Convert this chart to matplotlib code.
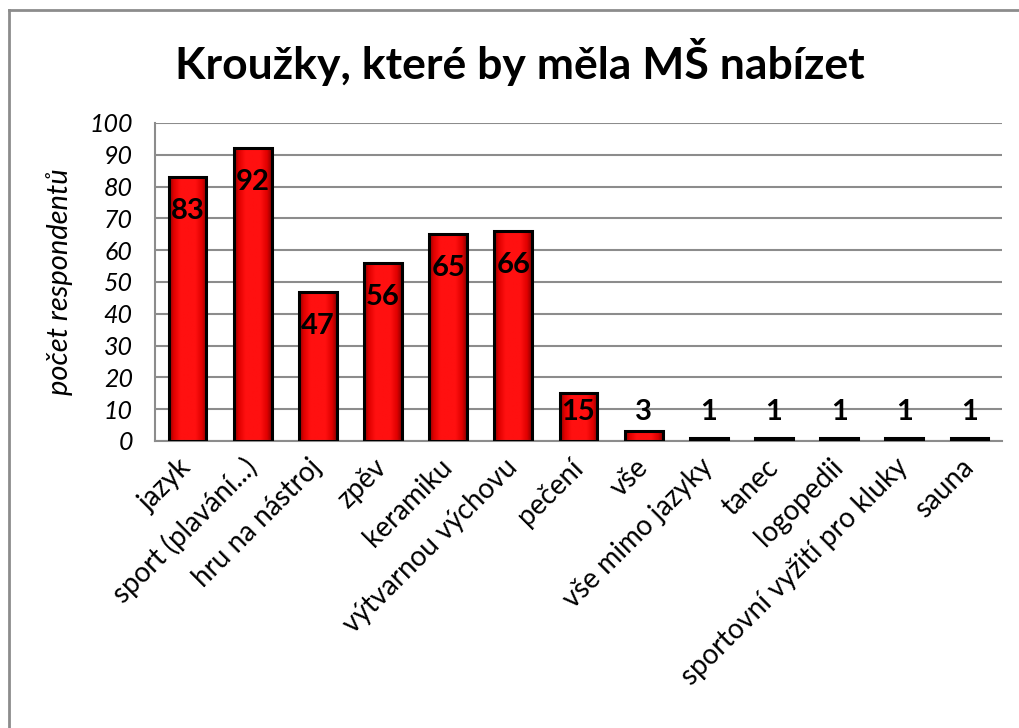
import numpy as np
import matplotlib
matplotlib.use("Agg")
import matplotlib.pyplot as plt
from matplotlib.lines import Line2D
from matplotlib.colors import LinearSegmentedColormap

categories = ["jazyk", "sport (plavání...)", "hru na nástroj", "zpěv", "keramiku",
              "výtvarnou výchovu", "pečení", "vše", "vše mimo jazyky", "tanec",
              "logopedii", "sportovní vyžití pro kluky", "sauna"]
values = [83, 92, 47, 56, 65, 66, 15, 3, 1, 1, 1, 1, 1]
yticks = [0, 10, 20, 30, 40, 50, 60, 70, 80, 90, 100]
title = "Kroužky, které by měla MŠ nabízet"
ylabel = "počet respondentů"

plt.rcParams['font.family'] = ['Lato', 'DejaVu Sans']

fig = plt.figure(figsize=(10.19, 7.28), dpi=100)
ax = fig.add_axes([155/1019, 1-441/728, (1002-155)/1019, (441-123)/728])

x = np.arange(len(categories)) + 0.5
bars = ax.bar(x, values, width=0.58, facecolor='none', edgecolor='black',
              linewidth=2.2, zorder=3)

cmap = LinearSegmentedColormap.from_list(
    'redbar', [(0.0, '#8a0000'), (0.12, '#e00000'), (0.3, '#ff1010'),
               (0.7, '#ff1010'), (0.88, '#e00000'), (1.0, '#8a0000')])
grad = np.linspace(0, 1, 64).reshape(1, -1)
for b in bars:
    x0, w, h = b.get_x(), b.get_width(), b.get_height()
    im = ax.imshow(grad, extent=[x0, x0 + w, 0, h], aspect='auto', cmap=cmap,
                   zorder=2, interpolation='bilinear')
    im.set_clip_path(b)

for xi, v in zip(x, values):
    ax.text(xi, max(v - 10.7, 9), str(v), ha='center', va='center',
            fontsize=21, fontweight='bold', color='black', zorder=5)

ax.set_xlim(0, len(categories))
ax.set_ylim(0, 100)
ax.set_yticks(yticks)
ax.set_yticklabels([str(t) for t in yticks], fontsize=18, style='italic')
ax.set_xticks(x)
ax.set_xticklabels(categories, rotation=45, ha='right', va='center',
                   rotation_mode='anchor', fontsize=20)
ax.tick_params(axis='x', length=0, pad=16)
ax.tick_params(axis='y', length=0, pad=16)
ax.yaxis.grid(True, color='#8c8c8c', linewidth=1.5, zorder=0)
ax.set_axisbelow(True)
for s in ['top', 'right']:
    ax.spines[s].set_visible(False)
for s in ['left', 'bottom']:
    ax.spines[s].set_color('#8c8c8c')
    ax.spines[s].set_linewidth(1.5)

ax.set_ylabel(ylabel, fontsize=21, style='italic', labelpad=12)
fig.text(0.51, 0.915, title, ha='center', va='center', fontsize=32,
         fontweight='bold')

fig.add_artist(Line2D([9/1019, 9/1019], [0, 1-10/728], color='#8c8c8c', lw=2))
fig.add_artist(Line2D([9/1019, 1], [1-10/728, 1-10/728], color='#8c8c8c', lw=2))

fig.savefig('out.png', dpi=100, facecolor='white')
